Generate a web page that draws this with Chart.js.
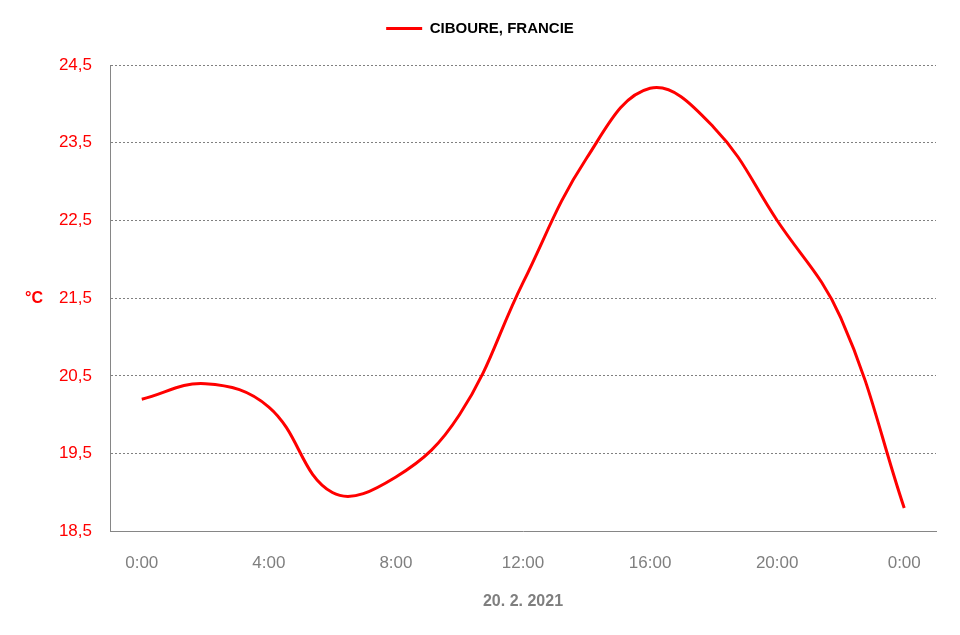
<!DOCTYPE html>
<html>
<head>
<meta charset="utf-8">
<script src="https://cdn.jsdelivr.net/npm/chart.js@4"></script>
<style>
  html, body { margin: 0; padding: 0; background: #fff; }
  #wrap { width: 960px; height: 635px; }
</style>
</head>
<body>
<div id="wrap"><canvas id="tempChart"></canvas></div>
<script>
// hourly labels, every 2 hours
const hours = ['0:00', '2:00', '4:00', '6:00', '8:00', '10:00', '12:00', '14:00', '16:00', '18:00', '20:00', '22:00', '0:00'];
// temperature (°C)
const temps = [20.2, 20.4, 20.1, 19.0, 19.2, 20.0, 21.7, 23.3, 24.2, 23.7, 22.5, 21.25, 18.8];
const yTicks = [18.5, 19.5, 20.5, 21.5, 22.5, 23.5, 24.5];

const seriesName = 'CIBOURE, FRANCIE';
const dateLabel = '20. 2. 2021';
const unitLabel = '°C';

const fontName = "'Liberation Sans', sans-serif";

// draws the horizontal °C label left of the value axis
const unitPlugin = {
    id: 'unitLabel',
    afterDraw(chart) {
        const ctx = chart.ctx;
        const area = chart.chartArea;
        ctx.save();
        ctx.font = `bold 16px ${fontName}`;
        ctx.fillStyle = '#ff0000';
        ctx.textAlign = 'center';
        ctx.textBaseline = 'middle';
        ctx.fillText(unitLabel, 34, (area.top + area.bottom) / 2);
        ctx.restore();
    }
};

const ctx = document.getElementById('tempChart').getContext('2d');
const tempChart = new Chart(ctx, {
    type: 'line',
    data: {
        labels: hours,
        datasets: [{
            label: seriesName,
            data: temps,
            borderColor: '#ff0000',
            backgroundColor: '#ff0000',
            borderWidth: 3,
            pointRadius: 0,
            tension: 0.4,
            fill: false,
        }]
    },
    options: {
        responsive: true,
        maintainAspectRatio: false,
        animation: false,
        layout: {
            padding: { left: 12, right: 12, top: 11, bottom: 24 }
        },
        plugins: {
            legend: {
                display: true,
                position: 'top',
                labels: {
                    usePointStyle: true,
                    pointStyle: 'line',
                    pointStyleWidth: 36,
                    color: '#000000',
                    padding: 10,
                    font: { family: fontName, size: 15, weight: 'bold' },
                }
            },
            // empty title used only as a gap between legend and plot
            title: {
                display: true,
                text: '',
                weight: 500,
                padding: { top: 9, bottom: 0 },
                font: { size: 10, lineHeight: 1 },
            },
            tooltip: { enabled: false },
        },
        scales: {
            x: {
                type: 'category',
                offset: true,
                grid: { display: false },
                border: { display: true, color: '#868686', width: 1 },
                ticks: {
                    autoSkip: false,
                    maxRotation: 0,
                    color: '#7f7f7f',
                    padding: 14,
                    font: { family: fontName, size: 17 },
                    callback: function (value, index) {
                        return index % 2 === 0 ? this.getLabelForValue(value) : '';
                    }
                },
                title: {
                    display: true,
                    text: dateLabel,
                    color: '#7f7f7f',
                    padding: { top: 4, bottom: 0 },
                    font: { family: fontName, size: 16, weight: 'bold' },
                }
            },
            y: {
                min: 18.5,
                max: 24.5,
                afterFit: (scale) => { scale.width = 98; },
                afterBuildTicks: (scale) => {
                    scale.ticks = yTicks.map(v => ({ value: v }));
                },
                grid: {
                    drawTicks: false,
                    color: (c) => (c.tick && c.tick.value === 18.5) ? 'rgba(0,0,0,0)' : '#808080',
                    lineWidth: 1,
                },
                border: { display: true, color: '#868686', width: 1, dash: [2, 2] },
                ticks: {
                    color: '#ff0000',
                    padding: 18,
                    font: { family: fontName, size: 17 },
                    callback: (value) => value.toFixed(1).replace('.', ','),
                }
            },
            // blank right-hand axis, only keeps the plot's right edge in place
            yRight: {
                position: 'right',
                display: true,
                afterFit: (scale) => { scale.width = 12; },
                grid: { display: false, drawOnChartArea: false },
                border: { display: false },
                ticks: { display: false },
            }
        }
    },
    plugins: [unitPlugin]
});
</script>
</body>
</html>
